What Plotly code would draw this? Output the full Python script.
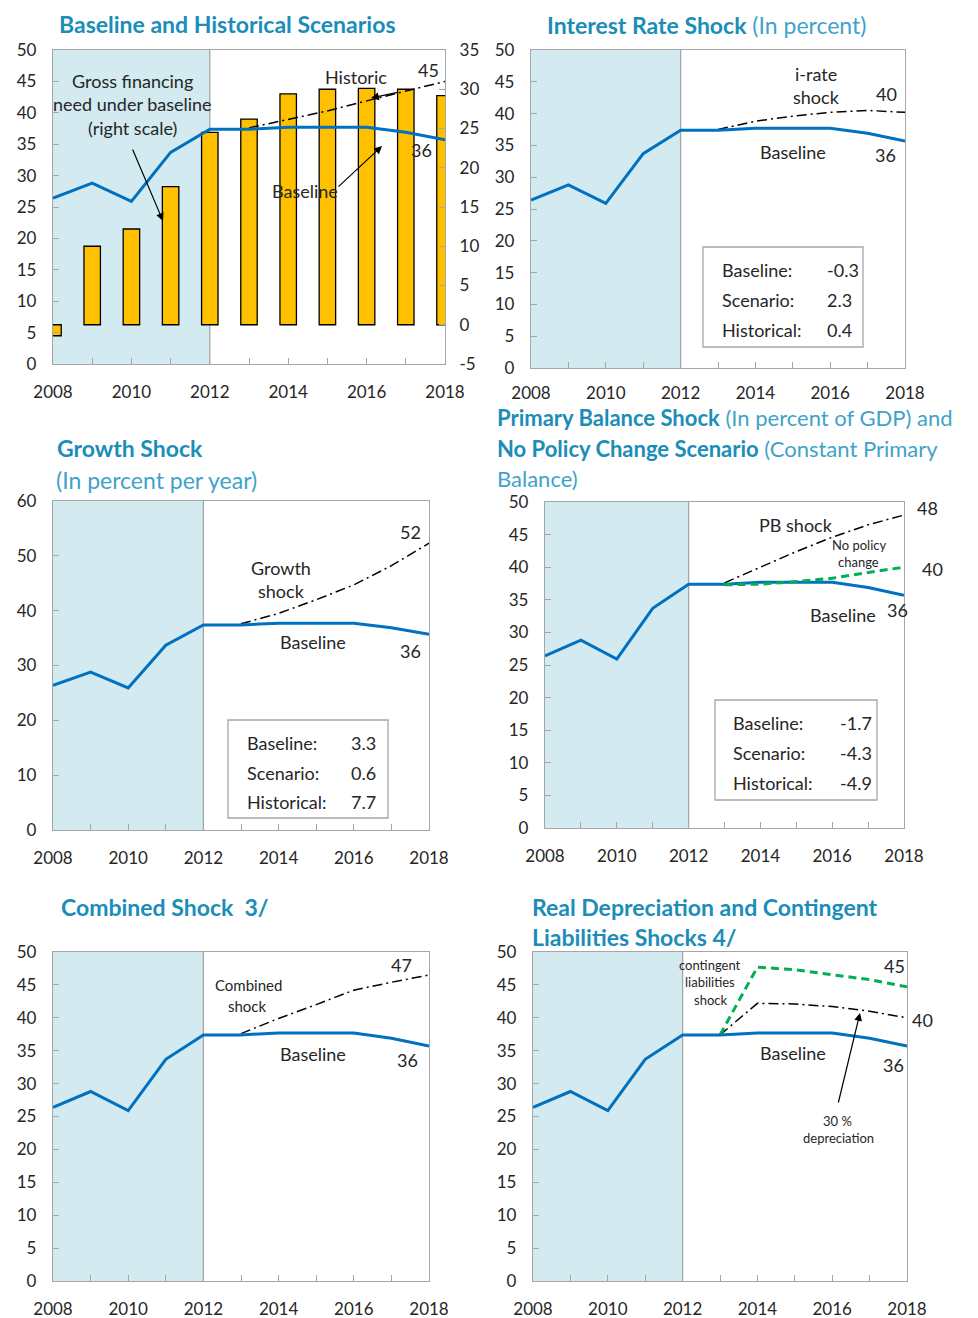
import plotly.graph_objects as go

# the page body adds an 8px margin; the figure is sized so it fits the window
OFF = 8
W, H = 978 - OFF, 1318 - OFF

# ---------------- data ----------------
years = [2008, 2009, 2010, 2011, 2012, 2013, 2014, 2015, 2016, 2017, 2018]
proj_years = [2013, 2014, 2015, 2016, 2017, 2018]

baseline = [26.4, 28.8, 25.9, 33.7, 37.4, 37.4, 37.7, 37.7, 37.7, 36.9, 35.7]
gfn_baseline = [-1.4, 10.0, 12.2, 17.6, 24.5, 26.2, 29.4, 30.0, 30.1, 30.0, 29.2]

historic = [37.6, 38.9, 40.3, 41.9, 43.5, 45.0]
irate_shock = [37.5, 38.8, 39.6, 40.2, 40.5, 40.2]
growth_shock = [37.6, 39.5, 42.0, 44.7, 48.2, 52.3]
pb_shock = [37.6, 40.0, 42.4, 44.6, 46.5, 48.0]
no_policy = [37.3, 37.4, 37.8, 38.3, 39.2, 40.0]
combined_shock = [37.6, 39.9, 42.0, 44.2, 45.4, 46.5]
contingent = [37.4, 47.7, 47.3, 46.6, 45.8, 44.7]
depreciation = [37.4, 42.2, 42.1, 41.7, 41.0, 40.0]

box_labels = ["Baseline:", "Scenario:", "Historical:"]
irate_box = ["-0.3", "2.3", "0.4"]
growth_box = ["3.3", "0.6", "7.7"]
pb_box = ["-1.7", "-4.3", "-4.9"]

x_ticks = [2008, 2010, 2012, 2014, 2016, 2018]
right_ticks = [-5, 0, 5, 10, 15, 20, 25, 30, 35]
right_tick_labels = ["-5", "0", "5", "10", "15", "20", "25", "30", "35"]

# ---------------- style ----------------
BLUE = "#0070C0"
SHADE = "#D2EAF0"
GREEN = "#00B050"
GREY = "#A6A6A6"
TXT = "#262626"
TITLE = "#1A8DB8"
SUB = "#3FA2CA"
FONT = "Lato"


def fx(p):
    return (p - OFF) / W


def fy(p):
    return 1 - (p - OFF) / H


# panel pixel boxes (window pixels): x0, x1, y_top, y_bottom
panels = {
    1: (53, 445, 50, 364),
    2: (531, 905, 50, 368),
    3: (53, 429, 501, 830),
    4: (545, 904, 502, 828),
    5: (53, 429, 952, 1281),
    6: (533, 907, 952, 1281),
}
yranges = {1: [-5, 35], 2: [0, 50], 3: [0, 60], 4: [0, 50], 5: [0, 50], 6: [0, 50]}
ydticks = {1: 5, 2: 5, 3: 10, 4: 5, 5: 5, 6: 5}

fig = go.Figure()
layout = dict(
    width=W, height=H, margin=dict(l=0, r=0, t=0, b=0, pad=0, autoexpand=False),
    paper_bgcolor="white", plot_bgcolor="white", showlegend=False,
    font=dict(family=FONT, size=17, color=TXT),
)

tickfont = dict(family=FONT, size=17, color=TXT)
shapes = []
annotations = []

for i, (x0, x1, yt, yb) in panels.items():
    sfx = "" if i == 1 else str(i)
    layout["xaxis" + sfx] = dict(
        domain=[fx(x0), fx(x1)], range=[2008, 2018], anchor="y" + sfx,
        tickvals=x_ticks, ticks="inside", ticklen=6, tickcolor=GREY,
        minor=dict(dtick=1, ticks="inside", ticklen=6, tickcolor=GREY),
        showline=True, mirror=True, linecolor=GREY, linewidth=1.3,
        showgrid=False, zeroline=False, tickfont=tickfont,
        ticklabelstandoff=12, automargin=False,
    )
    layout["yaxis" + sfx] = dict(
        domain=[fy(yb), fy(yt)], range=yranges[i], dtick=ydticks[i],
        anchor="x" + sfx, ticks="inside", ticklen=6, tickcolor=GREY,
        showline=True, mirror=True, linecolor=GREY, linewidth=1.3,
        showgrid=False, zeroline=False, tickfont=tickfont,
        ticklabelstandoff=12, automargin=False,
    )
    shapes.append(dict(type="rect", xref="x" + sfx, yref="y" + sfx + " domain",
                       x0=2008, x1=2012, y0=0, y1=1, fillcolor=SHADE,
                       line=dict(width=0), layer="below"))
    shapes.append(dict(type="line", xref="x" + sfx, yref="y" + sfx + " domain",
                       x0=2012, x1=2012, y0=0, y1=1,
                       line=dict(color=GREY, width=1.3), layer="below"))

# panel 2 x tick labels sit a little higher so they clear the title below
layout["xaxis2"]["ticklabelstandoff"] = 9

# panel 1: bars on right axis, lines on overlaid left axis
layout["yaxis"]["side"] = "right"
layout["yaxis"]["ticklabelstandoff"] = 10
layout["yaxis"]["tickvals"] = right_ticks
layout["yaxis"]["ticktext"] = right_tick_labels
layout["yaxis7"] = dict(
    overlaying="y", side="left", anchor="x", range=[0, 50], dtick=5,
    ticks="inside", ticklen=6, tickcolor=GREY, showline=True, mirror=True,
    linecolor=GREY, linewidth=1.3, showgrid=False, zeroline=False,
    tickfont=tickfont, ticklabelstandoff=12, automargin=False,
)

fig.add_trace(go.Bar(x=years, y=gfn_baseline, xaxis="x", yaxis="y", width=0.42,
                     marker=dict(color="#FFC000", line=dict(color="#000000", width=1.3))))

DASHDOT = "10px,4px,2px,4px"
DASH = "8px,5px"


def line(x, y, ax, color=BLUE, width=3, dash="solid"):
    xa, ya = ax
    fig.add_trace(go.Scatter(x=x, y=y, xaxis=xa, yaxis=ya, mode="lines",
                             line=dict(color=color, width=width, dash=dash)))


line(proj_years, historic, ("x", "y7"), color="#000000", width=1.5, dash=DASHDOT)
line(years, baseline, ("x", "y7"))

line(proj_years, irate_shock, ("x2", "y2"), color="#000000", width=1.5, dash=DASHDOT)
line(years, baseline, ("x2", "y2"))

line(proj_years, growth_shock, ("x3", "y3"), color="#000000", width=1.5, dash=DASHDOT)
line(years, baseline, ("x3", "y3"))

line(proj_years, pb_shock, ("x4", "y4"), color="#000000", width=1.5, dash=DASHDOT)
line(years, baseline, ("x4", "y4"))
line(proj_years, no_policy, ("x4", "y4"), color=GREEN, width=3, dash=DASH)

line(proj_years, combined_shock, ("x5", "y5"), color="#000000", width=1.5, dash=DASHDOT)
line(years, baseline, ("x5", "y5"))

line(proj_years, depreciation, ("x6", "y6"), color="#000000", width=1.5, dash=DASHDOT)
line(proj_years, contingent, ("x6", "y6"), color=GREEN, width=3, dash=DASH)
line(years, baseline, ("x6", "y6"))


# ---------------- annotations ----------------
def txt(s, x, y, size=18, color=TXT, xanchor="center"):
    annotations.append(dict(text=s, x=fx(x), y=fy(y), xref="paper", yref="paper",
                            xanchor=xanchor, yanchor="middle", showarrow=False,
                            font=dict(family=FONT, size=size, color=color)))


def arrow(tx, ty, hx, hy):
    annotations.append(dict(text="", x=fx(hx), y=fy(hy), xref="paper", yref="paper",
                            ax=tx - hx, ay=ty - hy, axref="pixel", ayref="pixel",
                            showarrow=True, arrowhead=2, arrowsize=1.3,
                            arrowwidth=1.2, arrowcolor="#000000"))


def title(s, x, y, size=23):
    annotations.append(dict(text=s, x=fx(x), y=fy(y), xref="paper", yref="paper",
                            xanchor="left", yanchor="middle", showarrow=False,
                            font=dict(family=FONT, size=size, color=TITLE)))


def sub(s):
    return "<span style='color:%s'>%s</span>" % (SUB, s)


def box(x0, x1, y0, y1, lx, vx, ys, vals):
    shapes.append(dict(type="rect", xref="paper", yref="paper", x0=fx(x0), x1=fx(x1),
                       y0=fy(y1), y1=fy(y0), line=dict(color=GREY, width=1.3),
                       fillcolor="white", layer="above"))
    for lab, v, yy in zip(box_labels, vals, ys):
        txt(lab, lx, yy, size=18, xanchor="left")
        txt(v, vx, yy, size=18, xanchor="left")


# titles
title("<b>Baseline and Historical Scenarios</b>", 57, 24)
title("<b>Interest Rate Shock</b> " + sub("(In percent)"), 545, 25)
title("<b>Growth Shock</b>", 55, 448)
title(sub("(In percent per year)"), 54, 480)
title("<b>Primary Balance Shock</b> " + sub("(In percent of GDP) and"), 495, 418, size=22)
title("<b>No Policy Change Scenario</b> " + sub("(Constant Primary"), 495, 448, size=22)
title(sub("Balance)"), 495, 478, size=22)
title("<b>Combined Shock&nbsp;&nbsp;3/</b>", 59, 907)
title("<b>Real Depreciation and Contingent</b>", 530, 907)
title("<b>Liabilities Shocks 4/</b>", 530, 937)

# panel 1 labels
txt("Gross financing", 133, 81)
txt("need under baseline", 133, 104)
txt("(right scale)", 133, 128)
arrow(132, 148, 163, 221)
txt("Historic", 356, 77)
arrow(399, 92, 371, 98)
txt("45", 428, 70)
txt("36", 421, 150)
txt("Baseline", 305, 191)
arrow(337, 188, 382, 146)

# panel 2 labels
txt("i-rate", 816, 74)
txt("shock", 816, 97)
txt("40", 886, 94)
txt("Baseline", 793, 152)
txt("36", 885, 155)
box(703, 863, 247, 347, 720, 825, [270, 300, 330], irate_box)

# panel 3 labels
txt("Growth", 281, 568)
txt("shock", 281, 591)
txt("52", 410, 532)
txt("Baseline", 313, 642)
txt("36", 410, 651)
box(228, 388, 720, 818, 245, 349, [743, 773, 802], growth_box)

# panel 4 labels
txt("PB shock", 796, 525)
txt("No policy", 859, 545, size=13)
txt("change", 858, 562, size=13)
txt("48", 927, 508)
txt("40", 932, 569)
txt("Baseline", 843, 615)
txt("36", 897, 610)
box(715, 877, 700, 800, 731, 838, [723, 753, 783], pb_box)

# panel 5 labels
txt("Combined", 248, 985, size=15)
txt("shock", 247, 1006, size=15)
txt("47", 401, 965)
txt("Baseline", 313, 1054)
txt("36", 407, 1060)

# panel 6 labels
txt("contingent", 710, 965, size=13)
txt("liabilities", 710, 982, size=13)
txt("shock", 710, 1000, size=13)
txt("45", 894, 966)
txt("40", 922, 1020)
txt("Baseline", 793, 1053)
txt("36", 893, 1065)
txt("30 %", 837, 1121, size=13)
txt("depreciation", 838, 1138, size=13)
arrow(838, 1104, 860, 1013)

layout["shapes"] = shapes
layout["annotations"] = annotations
fig.update_layout(**layout)
fig.write_html("out.html")
